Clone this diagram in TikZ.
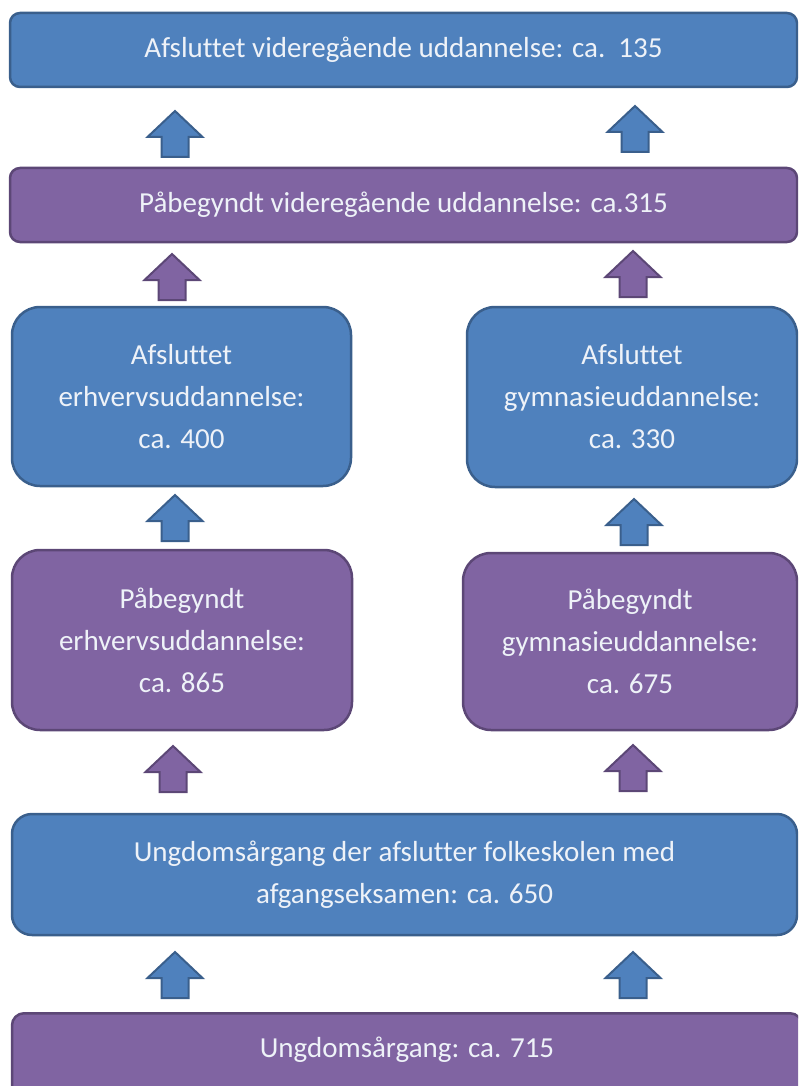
\documentclass[tikz,border=0pt]{standalone}
\usepackage{fontspec}
\setmainfont{Carlito}[Ligatures=NoCommon]
\definecolor{bfill}{HTML}{4F81BD}
\definecolor{bdraw}{HTML}{3A5F8C}
\definecolor{pfill}{HTML}{8064A2}
\definecolor{pdraw}{HTML}{5C4776}
\definecolor{txt}{HTML}{EEF2F8}
\begin{document}
\begin{tikzpicture}[x=1pt,y=-1pt,
  box/.style={rectangle,rounded corners=#1,line width=2.5pt,text=txt,align=center,
    font=\fontsize{29}{42}\selectfont,inner sep=0pt},
  bluebox/.style={box=#1,fill=bfill,draw=bdraw},
  purplebox/.style={box=#1,fill=pfill,draw=pdraw},
  uparr/.pic={\draw[pic actions] (-13.5,0) -- (-13.5,-20) -- (-27.5,-20) -- (0,-46) -- (27.5,-20) -- (13.5,-20) -- (13.5,0) -- cycle;},
  barr/.style={fill=bfill,draw=bdraw,line width=2pt,line join=miter},
  parr/.style={fill=pfill,draw=pdraw,line width=2pt,line join=miter}]
\useasboundingbox (0,0) rectangle (798,1086);
\clip (0,0) rectangle (798,1086);
\node[bluebox=10pt,minimum width=787,minimum height=74] (A) at (403.5,50) {Afsluttet videregående uddannelse: ca.\ \ 135};
\node[purplebox=10pt,minimum width=787,minimum height=74] (B) at (403.5,205) {Påbegyndt videregående uddannelse: ca.315};
\node[bluebox=28pt,minimum width=339,minimum height=179] (C) at (181.5,396.5) {Afsluttet\\erhvervsuddannelse:\\ca. 400};
\node[bluebox=28pt,minimum width=330,minimum height=180] (D) at (632,397) {Afsluttet\\gymnasieuddannelse:\\ca. 330};
\node[purplebox=28pt,minimum width=340,minimum height=180] (E) at (182,640) {Påbegyndt\\erhvervsuddannelse:\\ca. 865};
\node[purplebox=28pt,minimum width=334,minimum height=177] (F) at (630,641.5) {Påbegyndt\\gymnasieuddannelse:\\ca. 675};
\node[bluebox=20pt,minimum width=785,minimum height=121] (G) at (404.5,874.5) {Ungdomsårgang der afslutter folkeskolen med\\afgangseksamen: ca. 650};
\node[purplebox=12pt,minimum width=790,anchor=north,text height=44pt,text depth=44pt] (H) at (407,1012) {Ungdomsårgang: ca. 715};
\pic[barr] at (175,157) {uparr};
\pic[barr] at (635,152) {uparr};
\pic[parr] at (172,300) {uparr};
\pic[parr] at (633,297) {uparr};
\pic[barr] at (175,541) {uparr};
\pic[barr] at (634,545) {uparr};
\pic[parr] at (173,792) {uparr};
\pic[parr] at (633,791) {uparr};
\pic[barr] at (175,998) {uparr};
\pic[barr] at (633,998) {uparr};
\end{tikzpicture}
\end{document}
